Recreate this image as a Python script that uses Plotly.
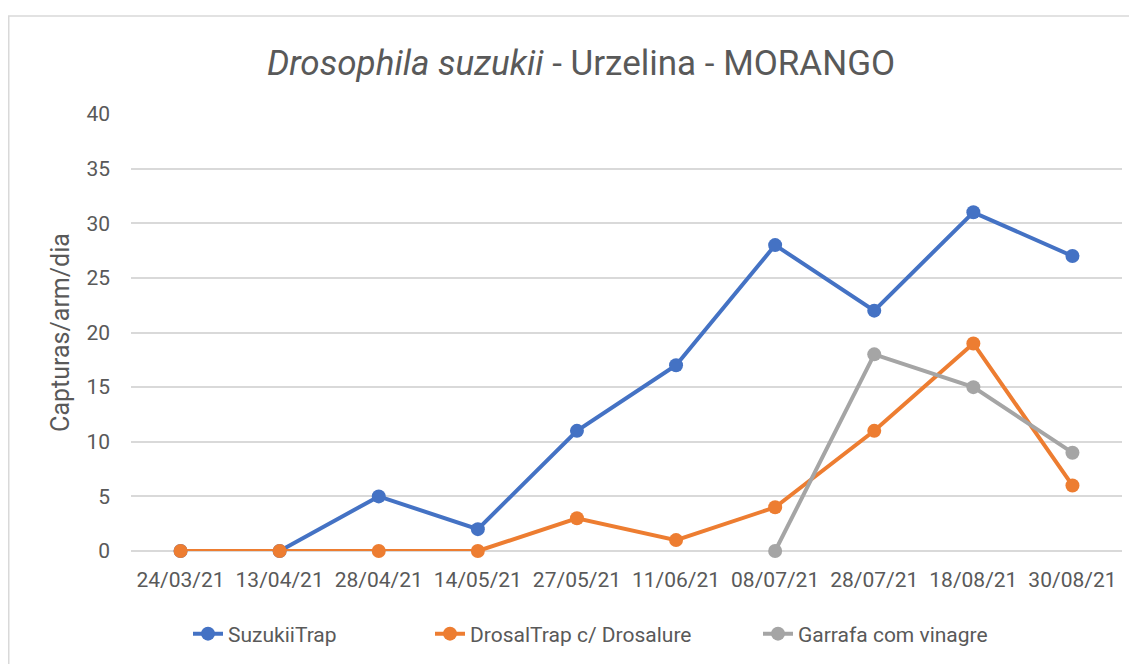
import plotly.graph_objects as go

dates = ["24/03/21", "13/04/21", "28/04/21", "14/05/21", "27/05/21",
         "11/06/21", "08/07/21", "28/07/21", "18/08/21", "30/08/21"]
suzukii = [0, 0, 5, 2, 11, 17, 28, 22, 31, 27]
drosal = [0, 0, 0, 0, 3, 1, 4, 11, 19, 6]
garrafa = [None, None, None, None, None, None, 0, 18, 15, 9]

names = ["SuzukiiTrap", "DrosalTrap c/ Drosalure", "Garrafa com vinagre"]
colors = ["#4472C4", "#ED7D31", "#A5A5A5"]
legend_ids = ["legend", "legend2", "legend3"]

FONT = "Roboto, sans-serif"

fig = go.Figure()
for name, vals, c, lg in zip(names, [suzukii, drosal, garrafa], colors, legend_ids):
    fig.add_trace(go.Scatter(
        x=dates, y=vals, name=name, mode="lines+markers",
        line=dict(color=c, width=4), marker=dict(color=c, size=14),
        connectgaps=False, legend=lg, cliponaxis=False,
    ))

OFF = 7  # page offset
W, H = 1137, 664
L = 130 - OFF
T = 113 - OFF
R = W - (1121 - OFF)
B = H - (550 - OFF)
pw, ph = W - L - R, H - T - B

def px(xp):
    return (xp - 130) / pw

def py(yp):
    return (550 - yp) / ph

leg_common = dict(orientation="h", xanchor="left", yanchor="middle",
                  font=dict(size=21), bgcolor="rgba(0,0,0,0)")

fig.update_layout(
    width=W, height=H,
    margin=dict(l=L, r=R, t=T, b=B),
    paper_bgcolor="white", plot_bgcolor="white",
    font=dict(family=FONT, color="#595959", size=21),
    title=dict(text="<i>Drosophila suzukii</i> - Urzelina - MORANGO",
               x=(580 - OFF) / W, xanchor="center", y=1 - (62 - OFF) / H, yanchor="middle",
               font=dict(size=35, color="#595959", family=FONT)),
    xaxis=dict(type="category", showgrid=False, showline=False,
               ticks="", tickfont=dict(size=21), range=[-0.5, 9.5],
               ticklabelstandoff=14),
    yaxis=dict(range=[0, 40], dtick=5, showgrid=True, gridcolor="#D9D9D9",
               gridwidth=1.5, zeroline=True, zerolinecolor="#D9D9D9",
               zerolinewidth=1.5, showline=False, ticks="",
               tickfont=dict(size=21), ticklabelstandoff=20,
               title=dict(text="Capturas/arm/dia", font=dict(size=25), standoff=9)),
    legend=dict(x=px(187), y=py(633), **leg_common),
    legend2=dict(x=px(429), y=py(633), **leg_common),
    legend3=dict(x=px(757), y=py(633), **leg_common),
    showlegend=True,
)

fig.add_shape(type="rect", xref="paper", yref="paper",
              x0=(0.75 - L) / pw, x1=(W + 20 - L) / pw,
              y0=-(H + 20 - 550) / ph, y1=1 + (113 - 15) / ph,
              line=dict(color="#D9D9D9", width=1.5), fillcolor="rgba(0,0,0,0)",
              layer="below")

fig.write_html("out.html")
